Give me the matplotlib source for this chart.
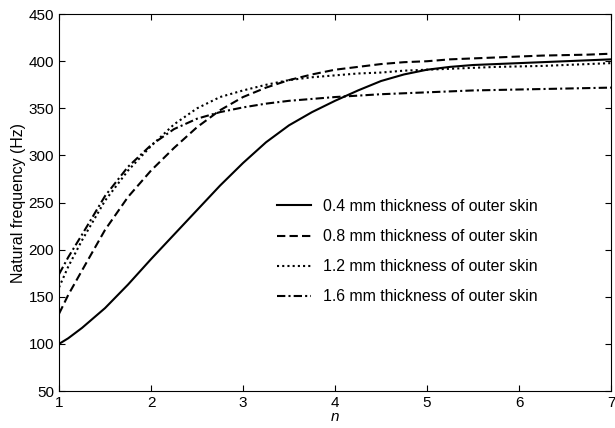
import matplotlib
matplotlib.use("Agg")
import matplotlib.pyplot as plt

plt.rcParams['font.family'] = ['Liberation Sans', 'DejaVu Sans']

# circumferential wave number
n = [1, 1.1, 1.25, 1.5, 1.75, 2, 2.25, 2.5, 2.75, 3, 3.25, 3.5, 3.75, 4,
     4.25, 4.5, 4.75, 5, 5.25, 5.5, 5.75, 6, 6.25, 6.5, 6.75, 7]

# natural frequency (Hz) for each outer skin thickness
f_04 = [100, 106, 117, 138, 163, 190, 216, 242, 268, 292, 314, 332, 346, 358,
        369, 379, 386, 391, 394, 396, 397, 398, 399, 400, 401, 402]
f_08 = [132, 152, 178, 221, 256, 284, 308, 330, 348, 362, 372, 380, 386, 391,
        394, 397, 399, 400, 402, 403, 404, 405, 406, 406.5, 407, 408]
f_12 = [160, 182, 210, 252, 284, 310, 333, 350, 362, 369, 375, 380, 383, 385,
        387, 388, 390, 391, 392, 393, 394, 394.5, 395, 396, 397, 398]
f_16 = [174, 192, 216, 257, 288, 311, 328, 339, 346, 351, 355, 358, 360, 362,
        363.5, 365, 366, 367, 368, 369, 369.5, 370, 370.5, 371, 371.5, 372]

labels = ["0.4 mm thickness of outer skin",
          "0.8 mm thickness of outer skin",
          "1.2 mm thickness of outer skin",
          "1.6 mm thickness of outer skin"]

fig = plt.figure(figsize=(6.15, 4.28), dpi=100)
ax = fig.add_axes([0.096, 0.0864, 0.8975, 0.8806])

ax.plot(n, f_04, color="black", lw=1.5, linestyle="-", label=labels[0])
ax.plot(n, f_08, color="black", lw=1.5, linestyle=(0, (4, 2)), label=labels[1])
ax.plot(n, f_12, color="black", lw=1.5, linestyle=(0, (1, 1.5)), label=labels[2])
ax.plot(n, f_16, color="black", lw=1.5, linestyle=(0, (4, 1.5, 1, 1.5)), label=labels[3])

ax.set_xlim(1, 7)
ax.set_ylim(50, 450)
ax.set_xticks(range(1, 8))
ax.set_yticks(range(50, 451, 50))
ax.tick_params(direction="in", top=True, right=True, length=4, labelsize=11, width=0.8)
for s in ax.spines.values():
    s.set_linewidth(0.8)

ax.set_xlabel("n", fontstyle="italic", fontsize=11, labelpad=0)
ax.set_ylabel("Natural frequency (Hz)", fontsize=11.4, labelpad=2)

ax.legend(loc="center", bbox_to_anchor=(0.631, 0.37), frameon=False,
          fontsize=11.4, labelspacing=0.95, handlelength=2.2, handletextpad=0.75)

fig.savefig("out.png", dpi=100)
